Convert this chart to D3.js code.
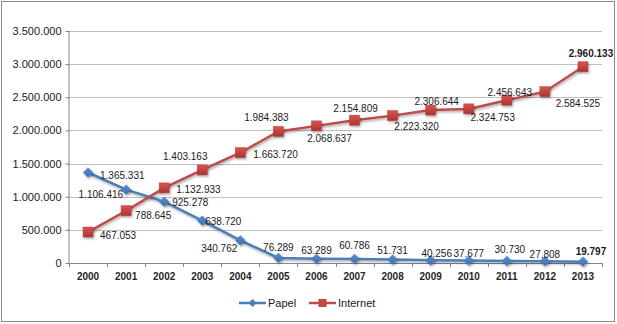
<!DOCTYPE html>
<html><head><meta charset="utf-8">
<script src="https://cdn.jsdelivr.net/npm/d3@7/dist/d3.min.js"></script>
<style>body{margin:0;background:#fff}svg{display:block}</style>
</head><body>
<svg id="c" width="617" height="324"></svg>
<script>
const years = ["2000","2001","2002","2003","2004","2005","2006","2007","2008","2009","2010","2011","2012","2013"];
const papel = [1365331,1106416,925278,638720,340762,76289,63289,60786,51731,40256,37677,30730,27808,19797];
const internet = [467053,788645,1132933,1403163,1663720,1984383,2068637,2154809,2223320,2306644,2324753,2456643,2584525,2960133];
const yTicks = [0,500000,1000000,1500000,2000000,2500000,3000000,3500000];

// label layout (offsets from the point, text-anchor)
const papelLbl = [[12,3,"start"],[-3,5,"end"],[8,1,"start"],[3,1,"start"],[-3,8,"end"],[0,-10,"middle"],[0,-8,"middle"],[0,-13,"middle"],[0,-9,"middle"],[6,-7,"middle"],[0,-7,"middle"],[3,-11,"middle"],[0,-7,"middle"],[8,-10,"middle"]];
const internetLbl = [[12,3,"start"],[9,5,"start"],[12,2,"start"],[-17,-13,"middle"],[13,2,"start"],[-12,-14,"middle"],[13,13,"middle"],[1,-12,"middle"],[24,11,"middle"],[6,-9,"middle"],[24,9,"middle"],[3,-8,"middle"],[33,12,"middle"],[8,-13,"middle"]];

const fmt = v => d3.format(",")(v).replace(/,/g,".");
const svg = d3.select("#c");
const defs = svg.append("defs");
const f = defs.append("filter").attr("id","sh").attr("x","-50%").attr("y","-50%").attr("width","200%").attr("height","200%");
f.append("feDropShadow").attr("dx",1).attr("dy",1.5).attr("stdDeviation",1).attr("flood-color","#000").attr("flood-opacity",0.35);
const gr = defs.append("linearGradient").attr("id","rg").attr("x1",0).attr("y1",0).attr("x2",0).attr("y2",1);
gr.append("stop").attr("offset","0").attr("stop-color","#D9534F");
gr.append("stop").attr("offset","1").attr("stop-color","#A93532");
const gb = defs.append("linearGradient").attr("id","bg").attr("x1",0).attr("y1",0).attr("x2",0).attr("y2",1);
gb.append("stop").attr("offset","0").attr("stop-color","#5B8FD0");
gb.append("stop").attr("offset","1").attr("stop-color","#3A6CB0");

svg.append("rect").attr("x",1.5).attr("y",1.5).attr("width",613).attr("height",320).attr("fill","#fff").attr("stroke","#8c8c8c").attr("stroke-width",1);

const L=69,R=602,T=31,B=263;
const x = d3.scaleBand().domain(years).range([L,R]);
const y = d3.scaleLinear().domain([0,3500000]).range([B,T]);
const cx = d => x(d)+x.bandwidth()/2;

// gridlines
svg.append("g").selectAll("line").data(yTicks.filter(t=>t>0)).join("line")
  .attr("x1",L).attr("x2",R).attr("y1",d=>Math.round(y(d))+0.5).attr("y2",d=>Math.round(y(d))+0.5)
  .attr("stroke","#bfbfbf").attr("stroke-width",1);

const yAx = svg.append("g").attr("transform",`translate(${L+0.5},0)`)
  .call(d3.axisLeft(y).tickValues(yTicks).tickFormat(fmt).tickSize(4).tickPadding(4));
yAx.select(".domain").attr("stroke","#868686").attr("d",`M-0.5,${B}V${T}`).attr("stroke","#868686");
yAx.selectAll(".tick line").attr("stroke","#868686");
yAx.selectAll("text").attr("font-family","Liberation Sans, Arial, sans-serif").attr("font-size","11px").attr("fill","#1a1a1a");

const xAx = svg.append("g").attr("transform",`translate(0,${B+0.5})`)
  .call(d3.axisBottom(x).tickSize(0).tickPadding(9));
xAx.select(".domain").attr("stroke","#868686").attr("d",`M${L},0H${R}`);
xAx.selectAll("text").attr("font-family","Liberation Sans, Arial, sans-serif").attr("font-size","10px").attr("font-weight","bold").attr("fill","#262626");
svg.append("g").selectAll("line").data(d3.range(years.length+1)).join("line")
  .attr("x1",i=>Math.round(L+i*x.bandwidth())+0.5).attr("x2",i=>Math.round(L+i*x.bandwidth())+0.5)
  .attr("y1",B).attr("y2",B+4).attr("stroke","#868686");

const line = d3.line().x((d,i)=>cx(years[i])).y(d=>y(d));
svg.append("path").datum(papel).attr("d",line).attr("fill","none").attr("stroke","#4A7EBB").attr("stroke-width",2.5).attr("filter","url(#sh)");
svg.append("path").datum(internet).attr("d",line).attr("fill","none").attr("stroke","#BE4B48").attr("stroke-width",2.5).attr("filter","url(#sh)");

const diamond = d3.symbol().type(d3.symbolDiamond2).size(60);
svg.append("g").selectAll("path").data(papel).join("path")
  .attr("d",diamond()).attr("transform",(d,i)=>`translate(${cx(years[i])},${y(d)})`)
  .attr("fill","url(#bg)").attr("stroke","#4A7EBB").attr("stroke-width",0.5).attr("filter","url(#sh)");
svg.append("g").selectAll("rect").data(internet).join("rect")
  .attr("x",(d,i)=>cx(years[i])-5).attr("y",d=>y(d)-5).attr("width",10).attr("height",10)
  .attr("fill","url(#rg)").attr("stroke","#B3403D").attr("stroke-width",0.5).attr("filter","url(#sh)");

function labels(data, lay){
  svg.append("g").selectAll("text").data(data).join("text")
    .attr("x",(d,i)=>cx(years[i])+lay[i][0]).attr("y",(d,i)=>y(d)+lay[i][1]+3.5)
    .attr("text-anchor",(d,i)=>lay[i][2])
    .attr("font-family","Liberation Sans, Arial, sans-serif").attr("font-size","10px")
    .attr("font-weight",(d,i)=>i===data.length-1?"bold":"normal")
    .attr("fill","#1a1a1a").text(fmt);
}
labels(papel,papelLbl);
labels(internet,internetLbl);

// legend
const lg = svg.append("g").attr("font-family","Liberation Sans, Arial, sans-serif").attr("font-size","11px");
[["Papel","#4A7EBB",239,"d"],["Internet","#BE4B48",309,"s"]].forEach(([n,c,x0,m])=>{
  lg.append("line").attr("x1",x0).attr("x2",x0+27).attr("y1",303).attr("y2",303).attr("stroke",c).attr("stroke-width",2.5);
  if(m==="d") lg.append("path").attr("d",d3.symbol().type(d3.symbolDiamond2).size(40)()).attr("transform",`translate(${x0+13.5},303)`).attr("fill",c);
  else lg.append("rect").attr("x",x0+9.5).attr("y",299).attr("width",8).attr("height",8).attr("fill",c);
  lg.append("text").attr("x",x0+29).attr("y",307).attr("fill","#1a1a1a").text(n);
});
</script>
</body></html>
